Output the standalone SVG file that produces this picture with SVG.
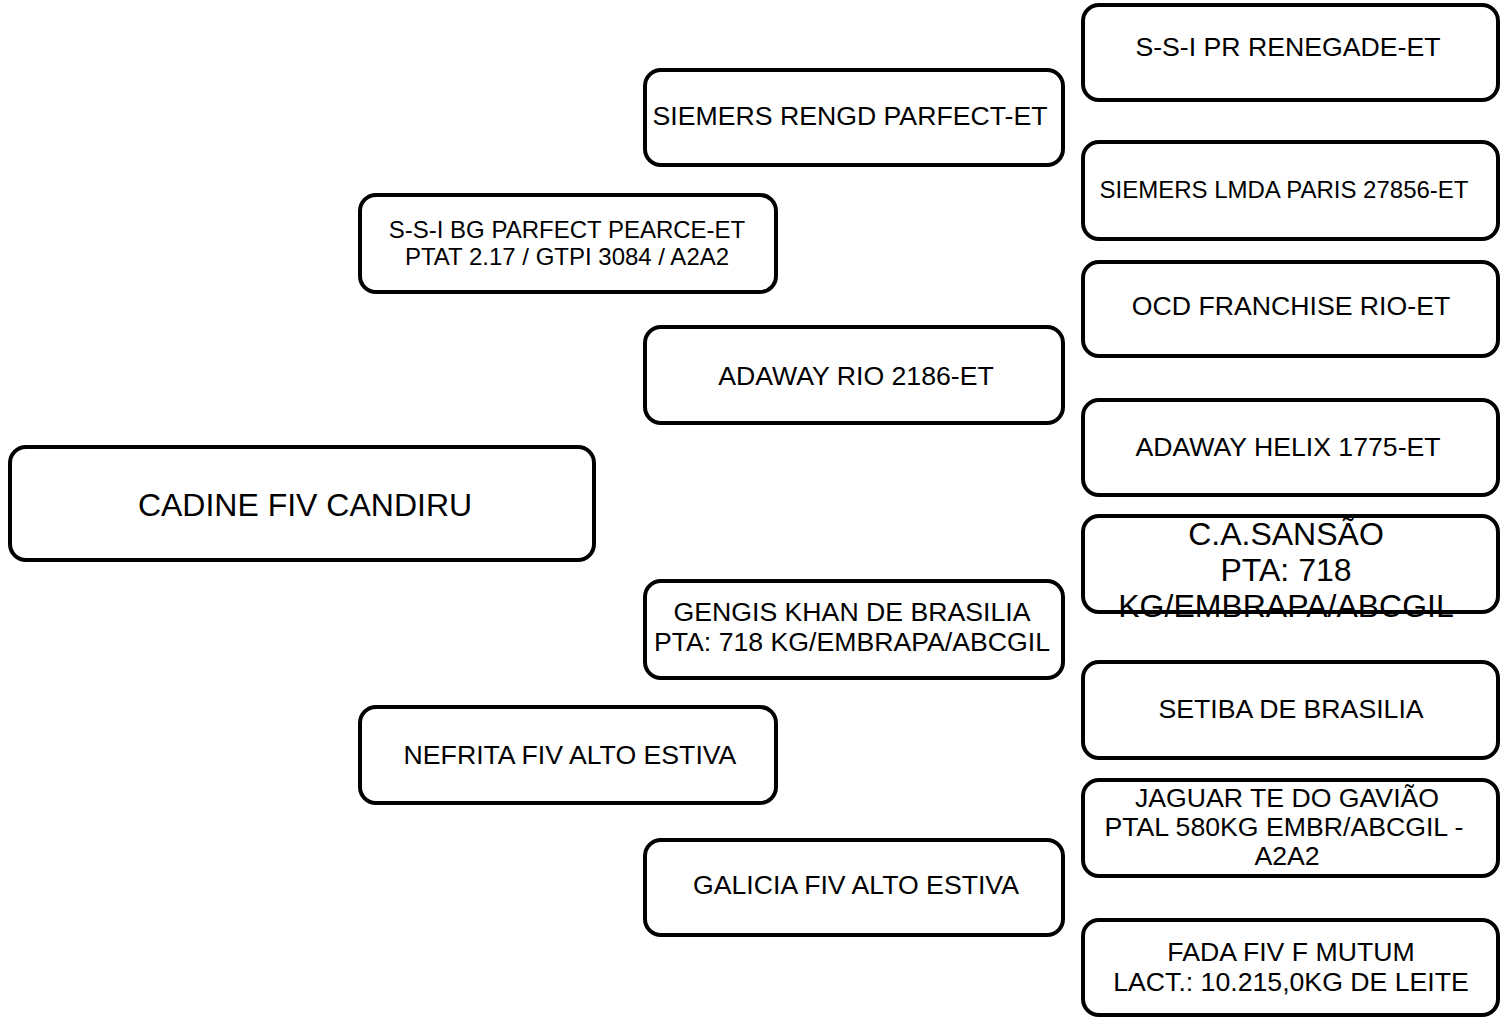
<svg xmlns="http://www.w3.org/2000/svg" width="1501" height="1018" viewBox="0 0 1501 1018">
<style>
.box{fill:#fff;stroke:#000;stroke-width:4}
text{font-family:"Liberation Sans",Arial,sans-serif;fill:#000;text-anchor:middle}
.t{font-size:26.67px}
.s{font-size:24px}
.l{font-size:32px}
</style>
<rect width="1501" height="1018" fill="#fff"/>
<g id="connectors"></g>
<g id="n-cadine"><rect class="box" x="10" y="447" width="584" height="113" rx="16"/><text class="l" x="305" y="516">CADINE FIV CANDIRU</text></g>
<g id="n-ssi-bg"><rect class="box" x="360" y="195" width="416" height="97" rx="16"/><text class="s" x="567" y="238">S-S-I BG PARFECT PEARCE-ET</text><text class="s" x="567" y="265">PTAT 2.17 / GTPI 3084 / A2A2</text></g>
<g id="n-nefrita"><rect class="box" x="360" y="707" width="416" height="96" rx="16"/><text class="t" x="570" y="764">NEFRITA FIV ALTO ESTIVA</text></g>
<g id="n-siemers-rengd"><rect class="box" x="645" y="70" width="418" height="95" rx="16"/><text class="t" x="850" y="125">SIEMERS RENGD PARFECT-ET</text></g>
<g id="n-adaway-rio"><rect class="box" x="645" y="327" width="418" height="96" rx="16"/><text class="t" x="856" y="385">ADAWAY RIO 2186-ET</text></g>
<g id="n-gengis"><rect class="box" x="645" y="581" width="418" height="97" rx="16"/><text class="t" x="852" y="621">GENGIS KHAN DE BRASILIA</text><text class="t" x="852" y="651">PTA: 718 KG/EMBRAPA/ABCGIL</text></g>
<g id="n-galicia"><rect class="box" x="645" y="840" width="418" height="95" rx="16"/><text class="t" x="856" y="894">GALICIA FIV ALTO ESTIVA</text></g>
<g id="n-ssi-pr"><rect class="box" x="1083" y="5" width="415" height="95" rx="16"/><text class="t" x="1288" y="56">S-S-I PR RENEGADE-ET</text></g>
<g id="n-siemers-lmda"><rect class="box" x="1083" y="142" width="415" height="97" rx="16"/><text class="s" x="1284" y="198">SIEMERS LMDA PARIS 27856-ET</text></g>
<g id="n-ocd"><rect class="box" x="1083" y="262" width="415" height="94" rx="16"/><text class="t" x="1291" y="315">OCD FRANCHISE RIO-ET</text></g>
<g id="n-adaway-helix"><rect class="box" x="1083" y="400" width="415" height="95" rx="16"/><text class="t" x="1288" y="456">ADAWAY HELIX 1775-ET</text></g>
<g id="n-sansao"><rect class="box" x="1083" y="516" width="415" height="96" rx="16"/><text class="l" x="1286" y="545">C.A.SANSÃO</text><text class="l" x="1286" y="581">PTA: 718</text><text class="l" x="1286" y="617">KG/EMBRAPA/ABCGIL</text></g>
<g id="n-setiba"><rect class="box" x="1083" y="662" width="415" height="96" rx="16"/><text class="t" x="1291" y="718">SETIBA DE BRASILIA</text></g>
<g id="n-jaguar"><rect class="box" x="1083" y="780" width="415" height="96" rx="16"/><text class="t" x="1287" y="807">JAGUAR TE DO GAVIÃO</text><text class="t" x="1284" y="836">PTAL 580KG EMBR/ABCGIL -</text><text class="t" x="1287" y="865">A2A2</text></g>
<g id="n-fada"><rect class="box" x="1083" y="920" width="415" height="95" rx="16"/><text class="t" x="1291" y="961">FADA FIV F MUTUM</text><text class="t" x="1291" y="991">LACT.: 10.215,0KG DE LEITE</text></g>
</svg>
